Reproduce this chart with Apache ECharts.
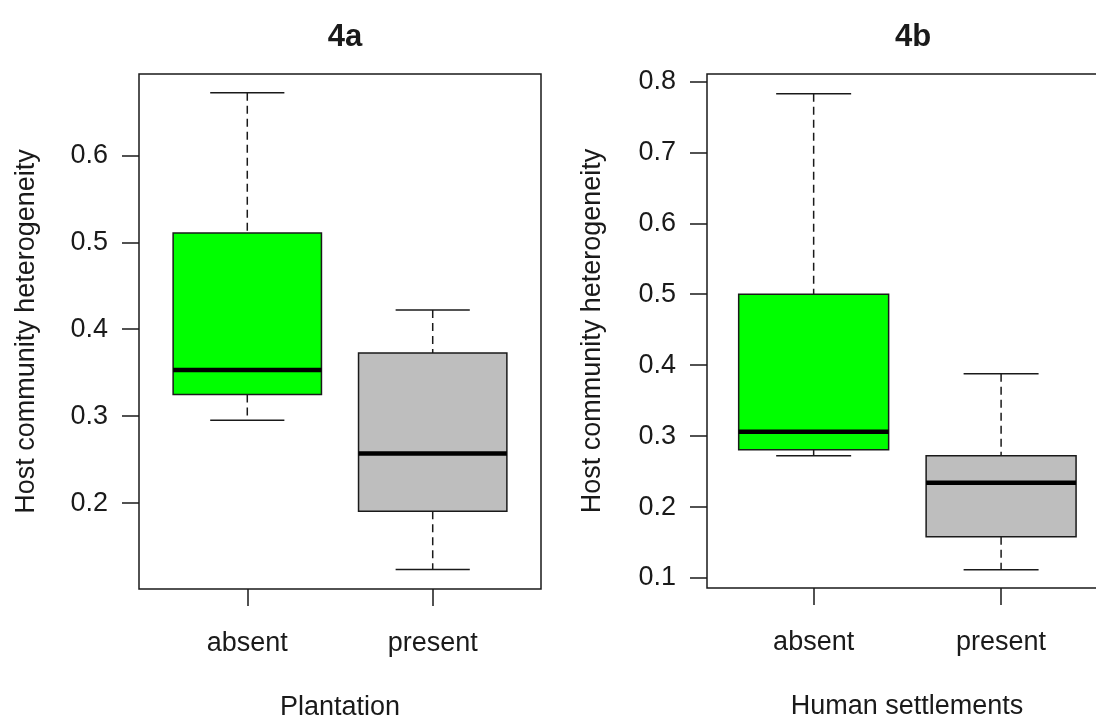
<!DOCTYPE html>
<html>
<head>
<meta charset="utf-8">
<script src="https://cdn.jsdelivr.net/npm/echarts@6/dist/echarts.min.js"></script>
<style>
  html, body { margin: 0; padding: 0; background: #fff; }
  #chart { width: 1096px; height: 719px; }
</style>
</head>
<body>
<div id="chart"></div>
<script>
// groups on the x axis
const groups = ['absent', 'present']
const boxColors = ['#00ff00', '#bebebe']

// [min, Q1, median, Q3, max]
const plantationStats = [
	[0.2953, 0.325, 0.353, 0.5108, 0.672],
	[0.1235, 0.1905, 0.257, 0.3726, 0.422],
]
const settlementStats = [
	[0.2724, 0.2808, 0.3063, 0.5, 0.7826],
	[0.1117, 0.1582, 0.2344, 0.2724, 0.388],
]

const leftTicks = [0.2, 0.3, 0.4, 0.5, 0.6]
const rightTicks = [0.1, 0.2, 0.3, 0.4, 0.5, 0.6, 0.7, 0.8]

const ink = '#1a1a1a'
const font = 'Liberation Sans'
const fs = 27

const myChart = echarts.init(document.getElementById('chart'), null, { renderer: 'canvas' })

const renderBox = (params, api) => {
	const x = api.value(0)
	const lo = api.coord([x, api.value(1)])
	const q1 = api.coord([x, api.value(2)])
	const med = api.coord([x, api.value(3)])
	const q3 = api.coord([x, api.value(4)])
	const hi = api.coord([x, api.value(5)])
	const w = api.size([0.8, 0])[0]
	const cx = lo[0]
	const line = { stroke: ink, lineWidth: 1.5 }
	return {
		type: 'group',
		children: [
			{ type: 'line', shape: { x1: cx, y1: hi[1], x2: cx, y2: q3[1] }, style: { ...line, lineDash: [8, 5] } },
			{ type: 'line', shape: { x1: cx, y1: q1[1], x2: cx, y2: lo[1] }, style: { ...line, lineDash: [8, 5] } },
			{ type: 'line', shape: { x1: cx - w / 4, y1: hi[1], x2: cx + w / 4, y2: hi[1] }, style: line },
			{ type: 'line', shape: { x1: cx - w / 4, y1: lo[1], x2: cx + w / 4, y2: lo[1] }, style: line },
			{
				type: 'rect',
				shape: { x: cx - w / 2, y: q3[1], width: w, height: q1[1] - q3[1] },
				style: { fill: boxColors[params.dataIndex], stroke: ink, lineWidth: 1.5 },
			},
			{ type: 'line', shape: { x1: cx - w / 2, y1: med[1], x2: cx + w / 2, y2: med[1] }, style: { stroke: '#000', lineWidth: 4.5 } },
		],
	}
}

const xAxisFor = (gridIndex, name, lo, hi) => ({
	type: 'value',
	gridIndex: gridIndex,
	min: lo,
	max: hi,
	name: name,
	nameLocation: 'middle',
	nameGap: 105,
	nameTextStyle: { fontFamily: font, fontSize: fs, color: ink },
	splitLine: { show: false },
	axisLine: { show: false },
	axisTick: { show: true, inside: false, length: 17, customValues: [1, 2], lineStyle: { color: ink, width: 1.5 } },
	axisLabel: {
		customValues: [1, 2],
		formatter: (v) => groups[Math.round(v) - 1],
		margin: 41,
		fontFamily: font,
		fontSize: fs,
		color: ink,
	},
})

const yAxisFor = (gridIndex, lo, hi, ticks, gap) => ({
	type: 'value',
	gridIndex: gridIndex,
	min: lo,
	max: hi,
	name: 'Host community heterogeneity',
	nameLocation: 'middle',
	nameGap: gap,
	nameTextStyle: { fontFamily: font, fontSize: fs, color: ink },
	splitLine: { show: false },
	axisLine: { show: false },
	axisTick: { show: true, inside: false, length: 17, customValues: ticks, lineStyle: { color: ink, width: 1.5 } },
	axisLabel: {
		customValues: ticks,
		formatter: (v) => v.toFixed(1),
		margin: 31,
		fontFamily: font,
		fontSize: fs,
		color: ink,
	},
})

const option = {
	animation: false,
	backgroundColor: '#fff',
	title: [
		{ text: '4a', left: 340, top: 17, textAlign: 'center', textStyle: { fontFamily: font, fontSize: 31, fontWeight: 'bold', color: ink } },
		{ text: '4b', left: 908, top: 17, textAlign: 'center', textStyle: { fontFamily: font, fontSize: 31, fontWeight: 'bold', color: ink } },
	],
	grid: [
		{ left: 139, top: 74, width: 402, height: 515, outerBoundsMode: 'none', show: true, borderColor: ink, borderWidth: 1.5, backgroundColor: 'transparent' },
		{ left: 707, top: 74, width: 400, height: 514, outerBoundsMode: 'none', show: true, borderColor: ink, borderWidth: 1.5, backgroundColor: 'transparent' },
	],
	xAxis: [xAxisFor(0, 'Plantation', 0.416, 2.584), xAxisFor(1, 'Human settlements', 0.431, 2.565)],
	yAxis: [yAxisFor(0, 0.1012, 0.6936, leftTicks, 99), yAxisFor(1, 0.0859, 0.8104, rightTicks, 101)],
	series: [
		{
			name: 'Plantation',
			type: 'custom',
			xAxisIndex: 0,
			yAxisIndex: 0,
			renderItem: renderBox,
			encode: { x: 0, y: [1, 2, 3, 4, 5] },
			data: plantationStats.map((s, i) => [i + 1, ...s]),
		},
		{
			name: 'Human settlements',
			type: 'custom',
			xAxisIndex: 1,
			yAxisIndex: 1,
			renderItem: renderBox,
			encode: { x: 0, y: [1, 2, 3, 4, 5] },
			data: settlementStats.map((s, i) => [i + 1, ...s]),
		},
	],
}
myChart.setOption(option)

window.addEventListener('resize', () => {
	myChart.resize()
})
</script>
</body>
</html>
